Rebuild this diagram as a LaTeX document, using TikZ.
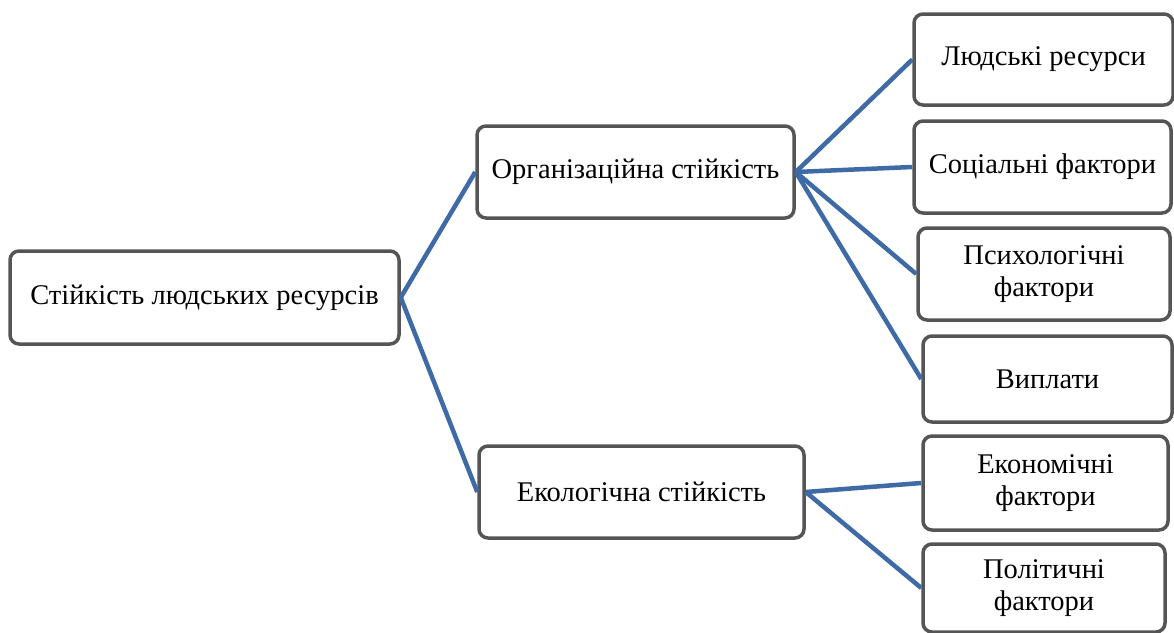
\documentclass[tikz,border=0pt]{standalone}
\usepackage{fontspec}
\setmainfont{Liberation Serif}
\begin{document}
\begin{tikzpicture}[x=1pt,y=-1pt,
  box/.style={draw=boxgray, line width=3.5pt, rounded corners=9pt, fill=white, align=center, font=\fontsize{28.5}{32}\selectfont, inner sep=0pt},
  link/.style={draw=linkblue, line width=4.5pt}]
\definecolor{boxgray}{HTML}{555555}
\definecolor{linkblue}{HTML}{3E6AA6}
\useasboundingbox (0,0) rectangle (1174,632);
\node[box, minimum width=389pt, minimum height=93pt] (root) at (204.5,297.5) {Стійкість людських ресурсів};
\node[box, minimum width=317pt, minimum height=92pt] (org) at (635.5,172) {Організаційна стійкість};
\node[box, minimum width=325pt, minimum height=92pt] (eco) at (641.5,492) {Екологічна стійкість};
\node[box, minimum width=259pt, minimum height=91pt] (c1) at (1043.5,59.5) {Людські ресурси};
\node[box, minimum width=257pt, minimum height=92pt] (c2) at (1042.5,167) {Соціальні фактори};
\node[box, minimum width=252pt, minimum height=92pt] (c3) at (1044,274) {Психологічні\\фактори};
\node[box, minimum width=249pt, minimum height=86pt] (c4) at (1047.5,379) {Виплати};
\node[box, minimum width=245pt, minimum height=94pt] (c5) at (1045.5,483) {Економічні\\фактори};
\node[box, minimum width=242pt, minimum height=88pt] (c6) at (1044,588) {Політичні\\фактори};
\draw[link] (root.east) -- (org.west);
\draw[link] (root.east) -- (eco.west);
\draw[link] (org.east) -- (c1.west);
\draw[link] (org.east) -- (c2.west);
\draw[link] (org.east) -- (c3.west);
\draw[link] (org.east) -- (c4.west);
\draw[link] (eco.east) -- (c5.west);
\draw[link] (eco.east) -- (c6.west);
\end{tikzpicture}
\end{document}
